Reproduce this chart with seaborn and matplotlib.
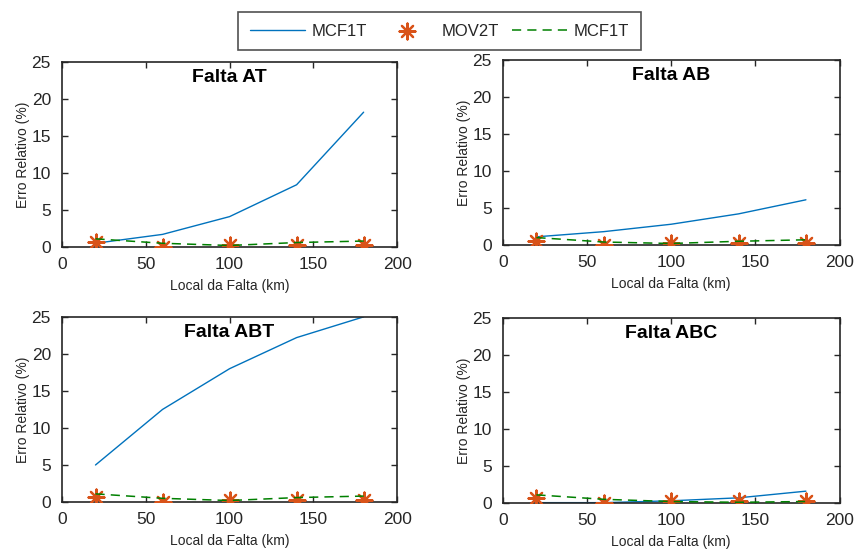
import seaborn as sns
import matplotlib.pyplot as plt

# distance of the fault (km)
local = [20, 60, 100, 140, 180]

titles = ['Falta AT', 'Falta AB', 'Falta ABT', 'Falta ABC']

# relative error (%) per fault type
mcf1t_at = [0.5, 1.7, 4.1, 8.4, 18.2]
mov2t_at = [0.7, 0.05, 0.3, 0.3, 0.3]
mcf1t2_at = [1.1, 0.5, 0.2, 0.6, 0.8]

mcf1t_ab = [1.1, 1.8, 2.8, 4.2, 6.1]
mov2t_ab = [0.6, 0.05, 0.2, 0.3, 0.2]
mcf1t2_ab = [1.0, 0.4, 0.2, 0.5, 0.7]

mcf1t_abt = [5.0, 12.5, 18.0, 22.2, 25.0]
mov2t_abt = [0.7, 0.05, 0.3, 0.3, 0.3]
mcf1t2_abt = [1.1, 0.5, 0.2, 0.6, 0.8]

mcf1t_abc = [0.05, 0.05, 0.3, 0.7, 1.6]
mov2t_abc = [0.7, 0.05, 0.3, 0.3, 0.3]
mcf1t2_abc = [1.1, 0.5, 0.2, 0.1, 0.2]

series = [
    (mcf1t_at, mov2t_at, mcf1t2_at),
    (mcf1t_ab, mov2t_ab, mcf1t2_ab),
    (mcf1t_abt, mov2t_abt, mcf1t2_abt),
    (mcf1t_abc, mov2t_abc, mcf1t2_abc),
]

labels = ['MCF1T', 'MOV2T', 'MCF1T']

sns.set_theme(style="ticks")
plt.rcParams['font.family'] = ['Liberation Sans', 'DejaVu Sans']
plt.rcParams['text.color'] = '#262626'
plt.rcParams['axes.labelcolor'] = '#262626'
plt.rcParams['xtick.color'] = '#262626'
plt.rcParams['ytick.color'] = '#262626'

fig = plt.figure(figsize=(8.55, 5.56), dpi=100)
positions = [
    [0.0725, 0.5558, 0.392, 0.333],
    [0.588, 0.5594, 0.394, 0.333],
    [0.0725, 0.0971, 0.392, 0.333],
    [0.588, 0.0953, 0.394, 0.333],
]

blue = '#0072BD'
orange = '#D95319'
green = '#008000'

for pos, title, (a, b, c) in zip(positions, titles, series):
    ax = fig.add_axes(pos)
    sns.lineplot(x=local, y=a, ax=ax, color=blue, linewidth=1.0, label=labels[0])
    sns.scatterplot(x=local, y=b, ax=ax, color=orange, marker=(8, 2, 0), s=130,
                    linewidth=1.6, label=labels[1], zorder=3)
    sns.lineplot(x=local, y=c, ax=ax, color=green, linewidth=1.1,
                 dashes=False, label=labels[2], zorder=4)
    ax.lines[-1].set_dashes((6, 4))
    if ax.get_legend() is not None:
        ax.get_legend().remove()
    ax.set_xlim(0, 200)
    ax.set_ylim(0, 25)
    ax.set_xticks([0, 50, 100, 150, 200])
    ax.set_yticks([0, 5, 10, 15, 20, 25])
    ax.tick_params(direction='in', top=True, right=True, length=4, width=1,
                   labelsize=12.5)
    ax.tick_params(axis='x', pad=7)
    ax.tick_params(axis='y', pad=8)
    for sp in ax.spines.values():
        sp.set_visible(True)
        sp.set_linewidth(1.2)
        sp.set_color('#262626')
    ax.set_xlabel('Local da Falta (km)', fontsize=10, labelpad=5)
    ax.set_ylabel('Erro Relativo (%)', fontsize=10, labelpad=1)
    ax.text(0.5, 0.913, title, transform=ax.transAxes, ha='center', va='center',
            fontsize=14, fontweight='bold', color='black')
    if title == 'Falta AT':
        handles, labs = ax.get_legend_handles_labels()

leg = fig.legend(handles, labs, loc='center', bbox_to_anchor=(0.514, 0.944),
                 ncol=3, fontsize=12, frameon=True, fancybox=False,
                 handlelength=3.3, columnspacing=0.8, handletextpad=0.4,
                 borderpad=0.7, borderaxespad=0)
leg.get_frame().set_edgecolor('#262626')
leg.get_frame().set_linewidth(1.2)

fig.savefig('out.png', dpi=100)
